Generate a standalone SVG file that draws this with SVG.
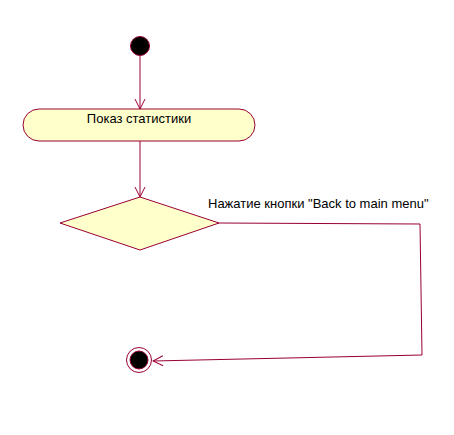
<svg xmlns="http://www.w3.org/2000/svg" width="454" height="435" viewBox="0 0 454 435">
<defs>
<style>
.ln{fill:none;stroke:#990033;stroke-width:1}
.nd{fill:#ffffcc;stroke:#990033;stroke-width:1}
.tx{font-family:"Liberation Sans",Arial,sans-serif;font-size:13px;fill:#000}
</style>
<marker id="arr" viewBox="0 0 12 12" refX="11" refY="6" markerWidth="12" markerHeight="12" markerUnits="userSpaceOnUse" orient="auto">
<path d="M1,1 L11,6 L1,11" fill="none" stroke="#990033" stroke-width="1"/>
</marker>
</defs>
<rect width="454" height="435" fill="#fff"/>
<g id="connectors">
<line class="ln" x1="140" y1="56" x2="140" y2="109" marker-end="url(#arr)"/>
<line class="ln" x1="140" y1="141" x2="140" y2="197" marker-end="url(#arr)"/>
<polyline class="ln" points="219,223 420,224 422,355 153,361" marker-end="url(#arr)"/>
<text class="tx" x="208" y="208">Нажатие кнопки "Back to main menu"</text>
</g>
<g id="start">
<circle cx="140" cy="46" r="9.5" fill="#000" stroke="#990033" stroke-width="1"/>
</g>
<g id="activity">
<path class="nd" d="M39,109 H239 A16,16 0 0 1 239,141 H39 A16,16 0 0 1 39,109 Z"/>
<text class="tx" x="139" y="123" text-anchor="middle">Показ статистики</text>
</g>
<g id="decision">
<polygon class="nd" points="140,197 219,223 140,250 60,223"/>
</g>
<g id="end">
<circle cx="139" cy="360" r="12.5" fill="#fff" stroke="#990033" stroke-width="1"/>
<circle cx="139" cy="360" r="9" fill="#000" stroke="#990033" stroke-width="1"/>
</g>
</svg>
